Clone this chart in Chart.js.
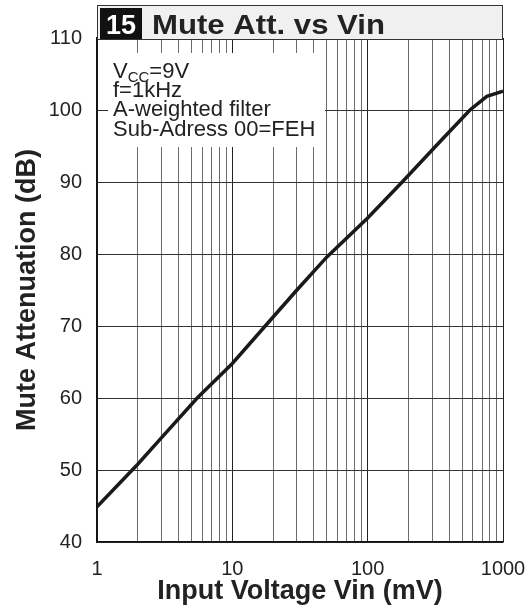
<!DOCTYPE html>
<html>
<head>
<meta charset="utf-8">
<script src="https://cdn.jsdelivr.net/npm/chart.js@4/dist/chart.umd.min.js"></script>
<style>
  html, body { margin: 0; padding: 0; background: #fff; }
  #wrap { width: 531px; height: 610px; }
</style>
</head>
<body>
<div id="wrap"><canvas id="muteChart" width="531" height="610"></canvas></div>
<script>
// values
const vinMv = [1, 2, 3, 5.5, 10, 17.5, 30, 50, 100, 180, 350, 570, 760, 1000];
const muteAttDb = [44.9, 50.8, 54.5, 60, 64.8, 70, 75.0, 79.6, 85, 90, 95.8, 100, 101.9, 102.6];

const xLabels = [1, 10, 100, 1000];
const yTicks = [40, 50, 60, 70, 80, 90, 100, 110];

const chartNo = "15";
const chartTitle = "Mute Att. vs Vin";
const notes = ["f=1kHz", "A-weighted filter", "Sub-Adress 00=FEH"];

const FONT = '"Liberation Sans", Arial, Helvetica, sans-serif';
const INK = "#222";

// draws a string stretched horizontally by sx
function wideText(ctx, text, x, y, sx) {
  ctx.save();
  ctx.translate(x, y);
  ctx.scale(sx, 1);
  ctx.fillText(text, 0, 0);
  ctx.restore();
}

const headerPlugin = {
  id: "header",
  afterDraw(chart) {
    const ctx = chart.ctx;
    const area = chart.chartArea;

    // title strip
    ctx.save();
    ctx.fillStyle = "#f0f0f0";
    ctx.fillRect(area.left, 5, area.right - area.left, area.top - 4);
    ctx.strokeStyle = "#333";
    ctx.lineWidth = 1;
    ctx.strokeRect(area.left + 0.5, 5.5, area.right - area.left - 1, area.top - 4);
    ctx.fillStyle = "#111";
    ctx.fillRect(area.left + 3, 8, 42, area.top - 7);

    ctx.textBaseline = "alphabetic";
    ctx.font = "bold 27px " + FONT;
    ctx.fillStyle = "#fff";
    ctx.textAlign = "center";
    ctx.fillText(chartNo, area.left + 24, 34);
    ctx.textAlign = "left";
    ctx.fillStyle = INK;
    const w = ctx.measureText(chartTitle).width;
    wideText(ctx, chartTitle, 152, 34, 233 / w);

    // conditions box
    ctx.fillStyle = "#fff";
    ctx.fillRect(108, 53, 217, 94);
    ctx.fillStyle = INK;
    const sx = 1.0;
    ctx.font = "22px " + FONT;
    wideText(ctx, "V", 113, 78, sx);
    let x = 113 + ctx.measureText("V").width * sx;
    ctx.font = "15px " + FONT;
    wideText(ctx, "CC", x, 82, sx);
    x += ctx.measureText("CC").width * sx;
    ctx.font = "22px " + FONT;
    wideText(ctx, "=9V", x, 78, sx);
    const baselines = [97, 116, 136];
    notes.forEach((t, i) => wideText(ctx, t, 113, baselines[i], sx));
    ctx.restore();
  }
};

new Chart(document.getElementById("muteChart"), {
  type: "scatter",
  data: {
    datasets: [{
      label: "Mute Attenuation",
      data: vinMv.map((v, i) => ({ x: v, y: muteAttDb[i] })),
      showLine: true,
      borderColor: "#1a1a1a",
      borderWidth: 3.5,
      pointRadius: 0,
      tension: 0
    }]
  },
  options: {
    responsive: false,
    animation: false,
    layout: { padding: { top: 38, right: 28, left: 0, bottom: 0 } },
    plugins: {
      legend: { display: false },
      tooltip: { enabled: false }
    },
    scales: {
      x: {
        type: "logarithmic",
        min: 1,
        max: 1000,
        afterFit: s => { s.height = 68; s.paddingLeft = 0; s.paddingRight = 0; },
        afterBuildTicks: s => {
          const t = [];
          for (let d = 1; d < 1000; d *= 10) {
            for (let m = 1; m < 10; m++) t.push({ value: m * d });
          }
          t.push({ value: 1000 });
          s.ticks = t;
        },
        ticks: {
          autoSkip: false,
          maxRotation: 0,
          padding: 15,
          color: INK,
          font: { family: FONT, size: 20 },
          callback: v => xLabels.includes(v) ? String(v) : ""
        },
        grid: {
          drawTicks: false,
          color: c => xLabels.includes(c.tick && c.tick.value) ? "#222" : "#6a6a6a",
          lineWidth: 1
        },
        border: { color: "#111", width: 1.5 },
        title: {
          display: true,
          text: "Input Voltage Vin (mV)",
          color: INK,
          font: { family: FONT, size: 27, weight: "bold", lineHeight: 1.2 },
          padding: { top: 0, bottom: 2 }
        }
      },
      y: {
        min: 40,
        max: 110,
        afterFit: s => { s.width = 97; },
        afterBuildTicks: s => { s.ticks = yTicks.map(v => ({ value: v })); },
        ticks: {
          padding: 15,
          color: INK,
          font: { family: FONT, size: 20 }
        },
        grid: { drawTicks: false, color: "#333", lineWidth: 1 },
        border: { color: "#111", width: 1.5 },
        title: {
          display: true,
          text: "Mute Attenuation (dB)",
          color: INK,
          font: { family: FONT, size: 27, weight: "bold", lineHeight: 1.2 },
          padding: { top: 11, bottom: 0 }
        }
      }
    }
  },
  plugins: [headerPlugin]
});
</script>
</body>
</html>
